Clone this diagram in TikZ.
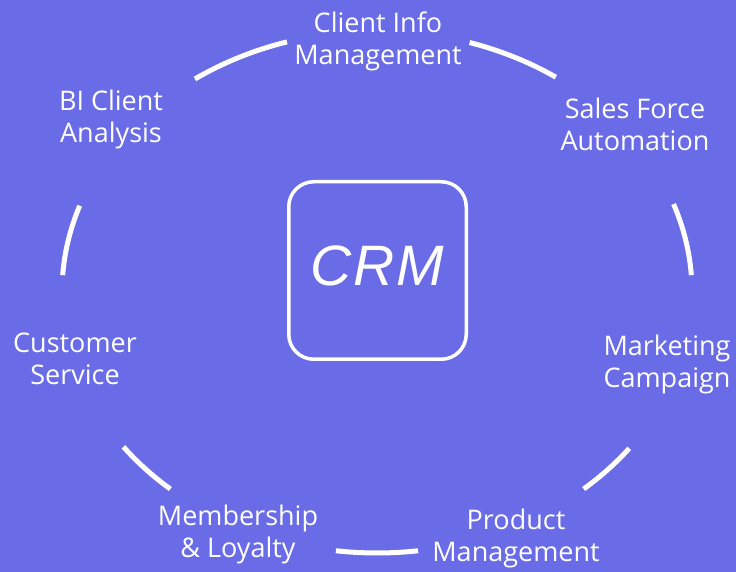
\documentclass[tikz,border=0pt]{standalone}
\usepackage{fontspec}
\setmainfont{Open Sans}
\newfontfamily\crmfont{Liberation Sans}
\definecolor{bgblue}{RGB}{106,107,230}

\begin{document}
\begin{tikzpicture}[x=1pt, y=1pt,
    label/.style={text=white, align=center, anchor=base, inner sep=0pt,
        font=\fontsize{27}{32}\selectfont},
    ring/.style={white, line width=5pt}]
    % 背景
    \fill[bgblue] (0,0) rectangle (736,572);
    \useasboundingbox (0,0) rectangle (736,572);

    % 中心方框
    \coordinate (c) at (377,280);
    \node[draw=white, line width=3.5pt, rounded corners=25pt, minimum size=177.5pt,
        text=white, text depth=9pt,
        font=\crmfont\itshape\fontsize{57}{62}\selectfont\addfontfeature{LetterSpace=3}]
        (crm) at (377.5,301.5) {CRM};

    % 外圈弧线
    \foreach \a/\b in {3.7/19.7, 55.4/72.9, 106.6/125.3, 160.7/176.3,
                       216.4/229, 262.5/277.5, 311/323.2}
        \draw[ring] (c) ++(\a:315 and 261) arc[start angle=\a, end angle=\b,
            x radius=315, y radius=261];

    % 标注各模块
    \node[label] (info)   at (378,507) {Client Info\\Management};
    \node[label] (bi)     at (111,429) {BI Client\\Analysis};
    \node[label] (sales)  at (635,421) {Sales Force\\Automation};
    \node[label] (cs)     at (75,187)  {Customer\\Service};
    \node[label] (mkt)    at (667,184) {Marketing\\Campaign};
    \node[label] (member) at (238,14)  {Membership\\\& Loyalty};
    \node[label] (prod)   at (516,10)  {Product\\Management};
\end{tikzpicture}
\end{document}
